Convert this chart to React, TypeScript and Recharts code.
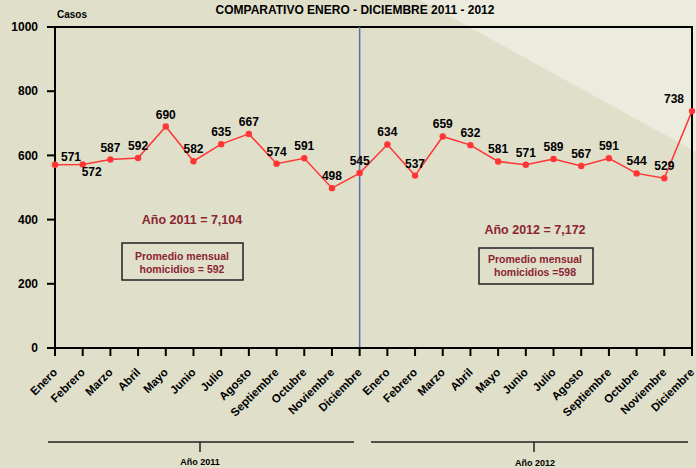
import React from "react";
import { LabelList, Line, LineChart, ReferenceArea, ReferenceLine, XAxis, YAxis } from "recharts";

const months = [
  "Enero",
  "Febrero",
  "Marzo",
  "Abril",
  "Mayo",
  "Junio",
  "Julio",
  "Agosto",
  "Septiembre",
  "Octubre",
  "Noviembre",
  "Diciembre",
];
const years = ["2011", "2012"];
const cases2011 = [571, 572, 587, 592, 690, 582, 635, 667, 574, 591, 498, 545];
const cases2012 = [634, 537, 659, 632, 581, 571, 589, 567, 591, 544, 529, 738];
const yTicks = [0, 200, 400, 600, 800, 1000];
const yearTotals = ["7,104", "7,172"];
const monthlyAverages = ["592", "598"];

const data = [
  ...months.map((month, i) => ({ key: `${month}-${years[0]}`, cases: cases2011[i] })),
  ...months.map((month, i) => ({ key: `${month}-${years[1]}`, cases: cases2012[i] })),
];

const W = 696;
const H = 468;
const BG = "#DFDFCA";
const BG_LIGHT = "#EBEBDE";
const RED = "#FF3535";
const NOTE = "#8C2432";
const FONT = "'Liberation Sans', Arial, sans-serif";

function MonthTick({ x, y, payload }: { x?: number; y?: number; payload?: { value: string } }) {
  const month = String(payload?.value ?? "").split("-")[0];
  const tx = (x ?? 0) + 3;
  const ty = (y ?? 0) + 15;
  return (
    <text
      x={tx}
      y={ty}
      transform={`rotate(-45 ${tx} ${ty})`}
      textAnchor="end"
      fontFamily={FONT}
      fontWeight="bold"
      fontSize={11.5}
      fill="#000"
    >
      {month}
    </text>
  );
}

// a few labels sit off to the side in the original
const labelShift: Record<number, [number, number]> = {
  0: [16, 4],
  1: [9, 20],
  23: [-18, 0],
};

function PointLabel(props: any) {
  const { x, y, value, index } = props;
  const [dx, dy] = labelShift[index] ?? [0, 0];
  return (
    <text
      x={Number(x) + dx}
      y={Number(y) - 8 + dy}
      textAnchor="middle"
      fontFamily={FONT}
      fontWeight="bold"
      fontSize={12}
      fill="#000"
    >
      {value}
    </text>
  );
}

function Notes() {
  const boxText = { fontFamily: FONT, fontWeight: "bold" as const, fontSize: 10.5, fill: NOTE, textAnchor: "middle" as const };
  return (
    <svg width={W} height={H} style={{ position: "absolute", left: 0, top: 0, pointerEvents: "none" }}>
      <text x={355} y={14} textAnchor="middle" fontFamily={FONT} fontWeight="bold" fontSize={12} fill="#000">
        COMPARATIVO ENERO - DICIEMBRE 2011 - 2012
      </text>
      <text x={57} y={18} fontFamily={FONT} fontWeight="bold" fontSize={10} fill="#000">
        Casos
      </text>

      <text x={192} y={224} textAnchor="middle" fontFamily={FONT} fontWeight="bold" fontSize={12.5} fill={NOTE}>
        {`Año ${years[0]} = ${yearTotals[0]}`}
      </text>
      <rect x={122} y={243} width={121} height={37} fill="none" stroke="#222" strokeWidth={1.5} />
      <text x={182} y={260} {...boxText}>Promedio mensual</text>
      <text x={182} y={273} {...boxText}>{`homicidios = ${monthlyAverages[0]}`}</text>

      <text x={535} y={234} textAnchor="middle" fontFamily={FONT} fontWeight="bold" fontSize={12.5} fill={NOTE}>
        {`Año ${years[1]} = ${yearTotals[1]}`}
      </text>
      <rect x={479} y={248} width={114} height={36} fill="none" stroke="#222" strokeWidth={1.5} />
      <text x={535} y={263} {...boxText}>Promedio mensual</text>
      <text x={535} y={276} {...boxText}>{`homicidios =${monthlyAverages[1]}`}</text>

      <g stroke="#222" strokeWidth={1.5}>
        <line x1={48} y1={442} x2={354} y2={442} />
        <line x1={200} y1={442} x2={200} y2={452} />
        <line x1={371} y1={442} x2={688} y2={442} />
        <line x1={534} y1={442} x2={534} y2={452} />
      </g>
      <text x={200} y={465} textAnchor="middle" fontFamily={FONT} fontWeight="bold" fontSize={9} fill="#000">
        {`Año  ${years[0]}`}
      </text>
      <text x={535} y={466} textAnchor="middle" fontFamily={FONT} fontWeight="bold" fontSize={9} fill="#000">
        {`Año  ${years[1]}`}
      </text>
    </svg>
  );
}

export default function App() {
  return (
    <div style={{ position: "absolute", left: 0, top: 0, width: W, height: H, background: BG, overflow: "hidden" }}>
      <svg width={W} height={H} style={{ position: "absolute", left: 0, top: 0 }}>
        <polygon points={`420,0 ${W},0 ${W},152`} fill={BG_LIGHT} />
      </svg>
      <div style={{ position: "absolute", left: 0, top: 0 }}>
        <LineChart width={W} height={H} data={data} margin={{ top: 27, right: 4, bottom: 0, left: 0 }}>
          <ReferenceArea
            x1={data[0].key}
            x2={data[data.length - 1].key}
            y1={0}
            y2={1000}
            fill="none"
            stroke="#000"
            strokeWidth={2}
            ifOverflow="visible"
          />
          <ReferenceLine x={data[11].key} stroke="#4F74B2" strokeWidth={1.5} />
          <XAxis
            dataKey="key"
            interval={0}
            height={120}
            tickSize={8}
            tick={<MonthTick />}
            axisLine={{ stroke: "#000", strokeWidth: 2 }}
            tickLine={{ stroke: "#000", strokeWidth: 2 }}
          />
          <YAxis
            domain={[0, 1000]}
            ticks={yTicks}
            interval={0}
            width={55}
            tickSize={8}
            tickMargin={9}
            axisLine={{ stroke: "#000", strokeWidth: 2 }}
            tickLine={{ stroke: "#000", strokeWidth: 2 }}
            tick={{ fill: "#000", fontFamily: FONT, fontWeight: "bold", fontSize: 12 }}
          />
          <Line
            type="linear"
            dataKey="cases"
            stroke={RED}
            strokeWidth={1.5}
            dot={{ r: 3.2, fill: RED, stroke: RED, strokeWidth: 0 }}
            activeDot={false}
            isAnimationActive={false}
          >
            <LabelList dataKey="cases" content={<PointLabel />} />
          </Line>
        </LineChart>
      </div>
      <Notes />
    </div>
  );
}
